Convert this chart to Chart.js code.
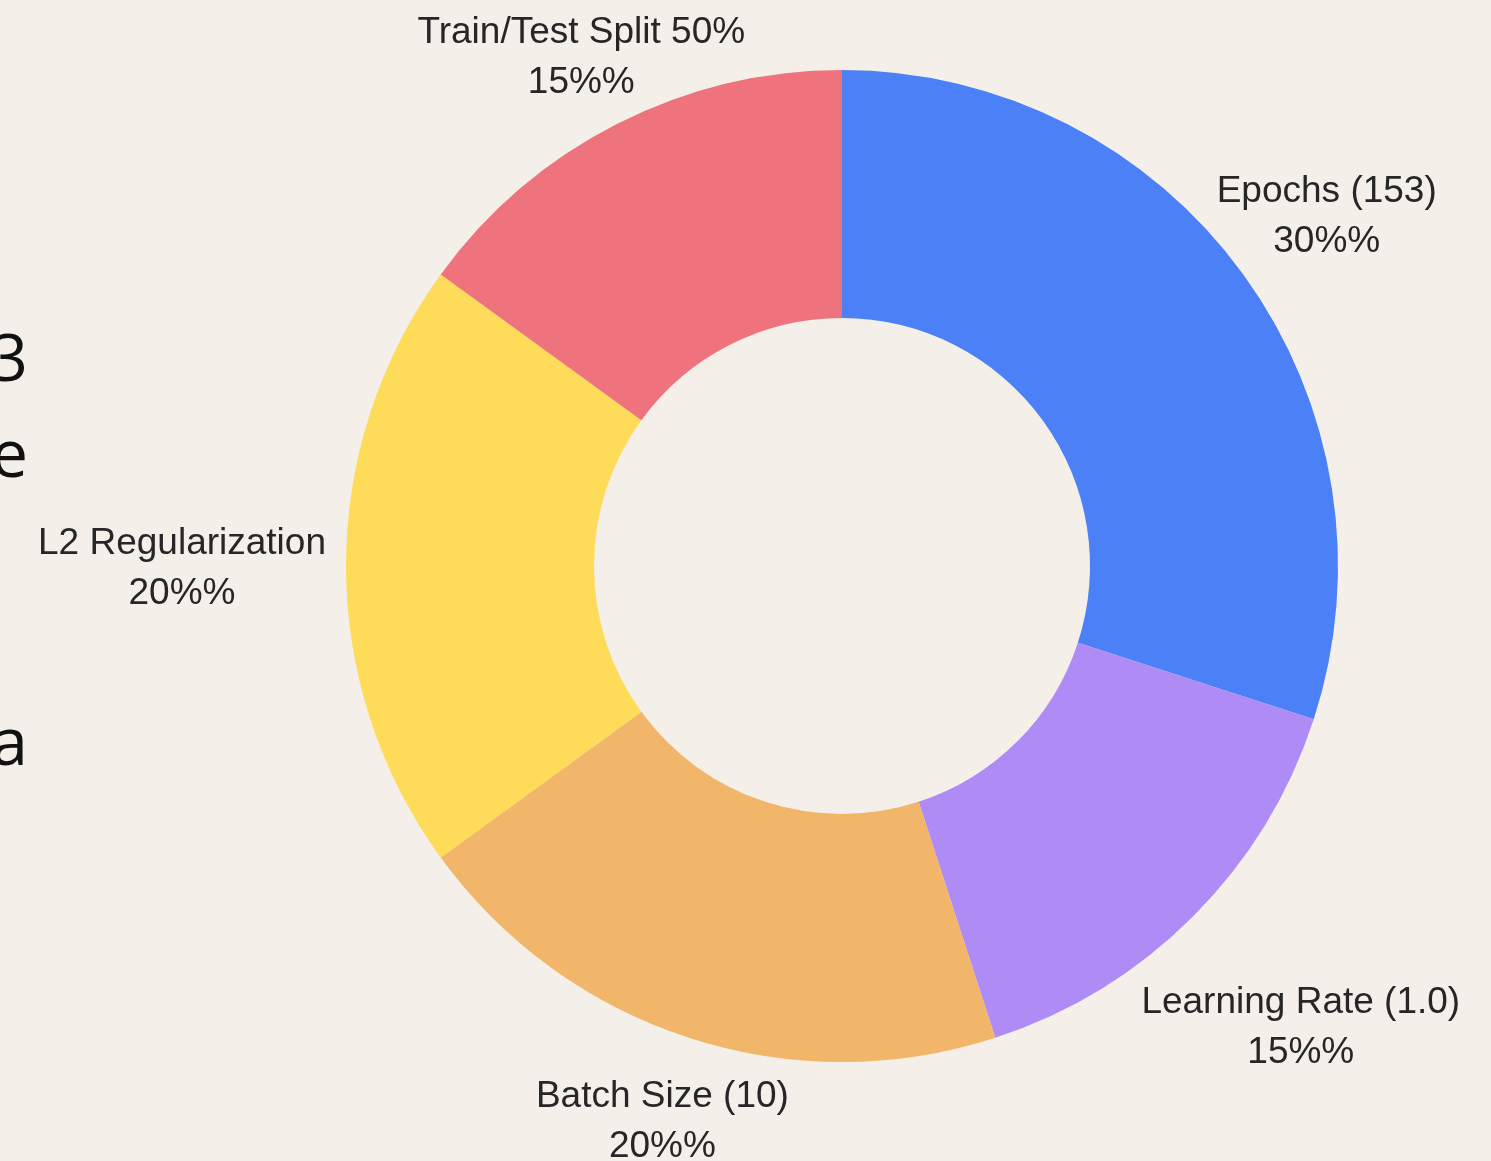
<!DOCTYPE html>
<html>
<head>
<meta charset="utf-8">
<script src="https://cdn.jsdelivr.net/npm/chart.js@4/dist/chart.umd.min.js"></script>
<style>
    html, body { margin: 0; padding: 0; background: #f4efe9; overflow: hidden; }
    #wrap { position: relative; width: 1491px; height: 1161px; }
    #chart { position: absolute; left: 0; top: 0; }
    .edge {
        position: absolute; right: 1463px; white-space: nowrap;
        font-family: "Open Sans", sans-serif; font-size: 66px; color: #111;
        line-height: 1;
    }
</style>
</head>
<body>
<div id="wrap">
    <div class="edge" style="top:322px;">3</div>
    <div class="edge" style="top:418px;">e</div>
    <div class="edge" style="top:706px;">a</div>
    <canvas id="chart" width="1491" height="1161"></canvas>
</div>
<script>
document.addEventListener('DOMContentLoaded', function () {
    "use strict";

    var labels = [
        "Epochs (153)",
        "Learning Rate (1.0)",
        "Batch Size (10)",
        "L2 Regularization",
        "Train/Test Split 50%"
    ];
    var shares = [30, 15, 20, 20, 15];
    var colors = ["#4c80f7", "#af8cf5", "#f2b66b", "#fedc5a", "#ef737d"];

    // extra radial push per label (layout only)
    var labelNudge = [0, 62, 10, -10, 0];

    // draws "name" + "NN%%" outside each slice, box edge touching a ring
    var outsideLabels = {
        id: 'outsideLabels',
        afterDatasetsDraw: function (chart) {
            var c = chart.ctx;
            var meta = chart.getDatasetMeta(0);
            c.save();
            c.font = '37px "Liberation Sans", Arial, sans-serif';
            c.fillStyle = '#262626';
            c.textAlign = 'center';
            c.textBaseline = 'middle';
            var lineGap = 50;
            var halfH = 43;
            meta.data.forEach(function (arc, i) {
                var p = arc.getProps(['x', 'y', 'startAngle', 'endAngle', 'outerRadius'], true);
                var mid = (p.startAngle + p.endAngle) / 2;
                var dx = Math.cos(mid), dy = Math.sin(mid);
                var line1 = labels[i];
                var line2 = shares[i] + '%%';
                var halfW = Math.max(c.measureText(line1).width, c.measureText(line2).width) / 2;
                var ext = Math.min(
                    Math.abs(dx) > 1e-6 ? halfW / Math.abs(dx) : Infinity,
                    Math.abs(dy) > 1e-6 ? halfH / Math.abs(dy) : Infinity
                );
                var r = p.outerRadius + 30 + labelNudge[i] + ext;
                var cx = p.x + dx * r;
                var cy = p.y + dy * r + 3;
                c.fillText(line1, cx, cy - lineGap / 2);
                c.fillText(line2, cx, cy + lineGap / 2);
            });
            c.restore();
        }
    };

    var ctx = document.getElementById("chart");
    var myChart = new Chart(ctx, {
        type: 'doughnut',
        data: {
            labels: labels,
            datasets: [{
                data: shares,
                backgroundColor: colors,
                hoverBackgroundColor: colors,
                borderWidth: 0
            }]
        },
        options: {
            responsive: false,
            animation: false,
            cutout: '50%',
            layout: {
                padding: { left: 346, right: 153, top: 70, bottom: 99 }
            },
            plugins: {
                legend: { display: false },
                tooltip: { enabled: false }
            }
        },
        plugins: [outsideLabels]
    });
});
</script>
</body>
</html>
